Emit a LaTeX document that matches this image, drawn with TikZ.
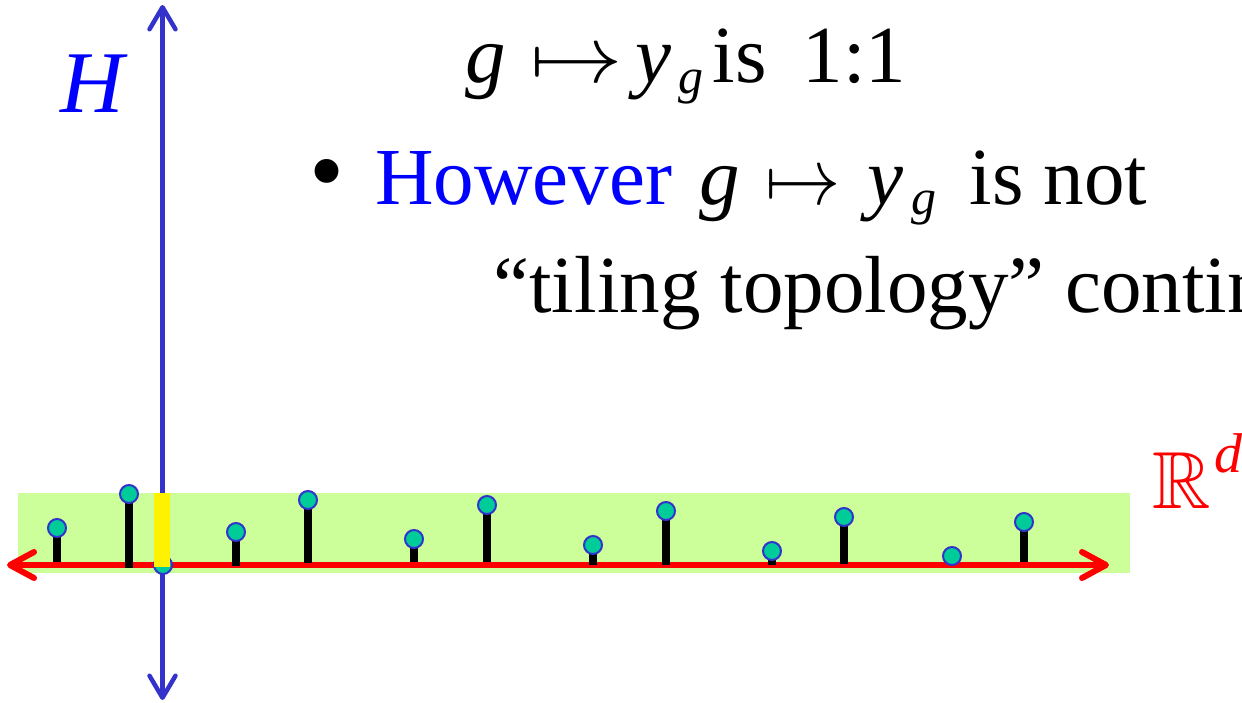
\documentclass[tikz,border=0pt]{standalone}
\usepackage{amssymb}
\usepackage{graphicx}
\usepackage{fontspec}
\setmainfont{Liberation Serif}
\DeclareFontShape{OMS}{cmsy}{m}{n}{<->cmsy10}{}
\DeclareFontShape{OML}{cmm}{m}{it}{<->cmmi10}{}
\DeclareFontShape{OT1}{cmr}{m}{n}{<->cmr10}{}
\DeclareFontShape{OMX}{cmex}{m}{n}{<->cmex10}{}
\DeclareFontFamily{U}{msb}{}
\DeclareFontShape{U}{msb}{m}{n}{<->msbm10}{}
\usetikzlibrary{arrows.meta}
\definecolor{axisblue}{RGB}{51,51,204}
\definecolor{bandgreen}{RGB}{204,255,153}
\definecolor{dotfill}{RGB}{0,204,153}
\definecolor{txtblue}{RGB}{0,0,255}
\begin{document}
\begin{tikzpicture}[x=1pt,y=-1pt,
  txt/.style={inner sep=0pt,outer sep=0pt,anchor=base west,font=\fontsize{81}{97}\selectfont},
  vaxis/.style={draw=axisblue,line width=4.5pt,{Straight Barb[length=22pt,width=26pt,round]}-{Straight Barb[length=22pt,width=26pt,round]}},
  haxis/.style={draw=red,line width=6pt,{Straight Barb[length=24pt,width=26pt,round]}-{Straight Barb[length=24pt,width=26pt,round]}},
  stem/.style={draw=black,line width=8pt},
  dot/.style={circle,fill=dotfill,draw=axisblue,line width=2pt,minimum size=18pt,inner sep=0pt},
]
\clip (0,0) rectangle (1242,702);
\fill[white] (0,0) rectangle (1242,702);

% band
\fill[bandgreen] (18,493) rectangle (1130,573);

% vertical H axis
\coordinate (vt) at (162.5,5);
\coordinate (vb) at (162.5,700);
\draw[vaxis] (vb) -- (vt);

% horizontal axis
\coordinate (xl) at (7,565);
\coordinate (xr) at (1109,565);
\draw[haxis] (xl) -- (xr);

% stems and dots
\foreach \i/\x/\y/\b in {1/57/528/562, 2/129/494/568, 4/236/532/566, 5/308/500/563, 6/414/539/562, 7/487/505/562, 8/593/545/565, 9/666/511/565, 10/772/551/565, 11/844/517/564, 13/1024/522/562}{
  \coordinate (p\i) at (\x,\y);
  \coordinate (b\i) at (\x,\b);
  \draw[stem] (b\i) -- (p\i);
}
\coordinate (p3) at (163,565);
\coordinate (p12) at (952,556);
\foreach \i in {1,...,13}{
  \node[dot] (d\i) at (p\i) {};
}

% yellow marker
\fill[yellow] (154,493) rectangle (170,567);

% labels
\node[txt,text=txtblue,font=\fontsize{88}{100}\selectfont\itshape] (H) at (60,112) {H};
\node[txt,text=red] (Rd) at (1152,508) {$\mathbb{R}$\hspace{4pt}\raisebox{36pt}{\fontsize{56}{56}\selectfont\itshape d}};

\node[txt] (l1) at (465,82) {\itshape g\upshape\hspace{25pt}\scalebox{1.14}[1]{$\mapsto$}\hspace{13pt}\itshape y\hspace{7pt}\raisebox{-11pt}{\fontsize{50}{50}\selectfont g}\upshape\hspace{9pt}is\hspace{36pt}1:1};

\node[txt] (l2) at (309.5,204) {{\fontsize{100}{100}\selectfont •}\hspace{31pt}\textcolor{txtblue}{However}\hspace{27.5pt}\itshape g\upshape\hspace{25pt}\scalebox{0.93}[1]{$\mapsto$}\hspace{27pt}\itshape y\hspace{8pt}\raisebox{-10pt}{\fontsize{50}{50}\selectfont g}\upshape\hspace{33pt}is not};

\node[txt] (l3) at (493.5,312) {“tiling topology” continuous};
\end{tikzpicture}
\end{document}
